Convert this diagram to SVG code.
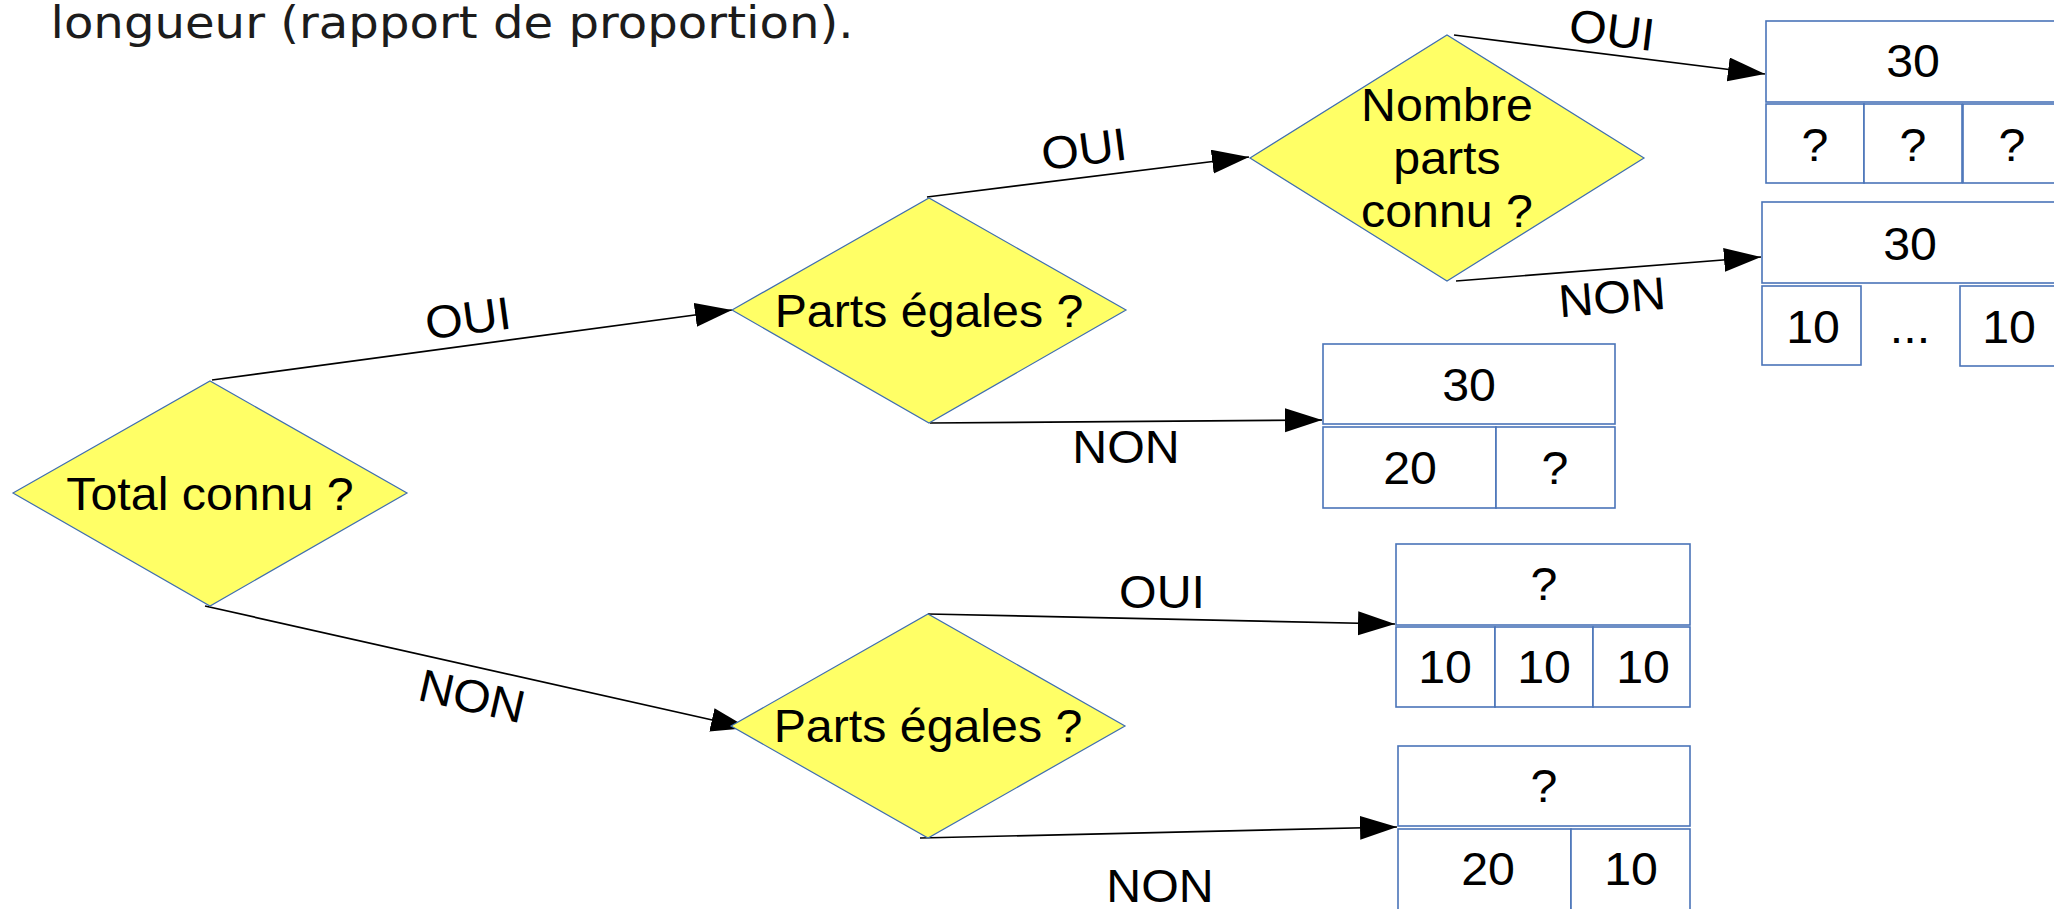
<svg xmlns="http://www.w3.org/2000/svg" width="2054" height="909" viewBox="0 0 2054 909">
<defs>
<style>
.dia{fill:#ffff66;stroke:#3f6eb0;stroke-width:1.2}
.box{fill:#ffffff;stroke:#4a74b8;stroke-width:1.6}
.t{font-family:"Liberation Sans",Arial,sans-serif;font-size:46px;fill:#000;text-anchor:middle}
.title{font-family:"DejaVu Sans",sans-serif;font-size:44px;fill:#1c1c1c}
.ln{stroke:#000;stroke-width:1.7;fill:none;marker-end:url(#ah)}
</style>
<marker id="ah" markerUnits="userSpaceOnUse" markerWidth="40" markerHeight="26" refX="37" refY="12" orient="auto" viewBox="0 0 40 26">
<path d="M0,0 L37,12 L0,24 z" fill="#000"/>
</marker>
</defs>
<rect width="2054" height="909" fill="#fff"/>
<text class="title" transform="translate(50.5 37.5) scale(1.095 1)">longueur (rapport de proportion).</text>

<g id="connectors">
<line class="ln" x1="212" y1="380" x2="732" y2="310"/>
<line class="ln" x1="205" y1="606" x2="748" y2="728"/>
<line class="ln" x1="927" y1="197" x2="1249" y2="157"/>
<line class="ln" x1="930" y1="423" x2="1322" y2="420"/>
<line class="ln" x1="1454" y1="35" x2="1765" y2="74"/>
<line class="ln" x1="1456" y1="281" x2="1761" y2="257"/>
<line class="ln" x1="928" y1="614" x2="1395" y2="624"/>
<line class="ln" x1="920" y1="838" x2="1397" y2="827"/>
<text class="t" transform="translate(468 318) rotate(-7.7) scale(1.05 1)" y="16">OUI</text>
<text class="t" transform="translate(472 696) rotate(12.7) scale(1.05 1)" y="16">NON</text>
<text class="t" transform="translate(1084 149) rotate(-7.3) scale(1.05 1)" y="16">OUI</text>
<text class="t" transform="translate(1126 463) scale(1.05 1)">NON</text>
<text class="t" transform="translate(1612 30) rotate(7.1) scale(1.05 1)" y="16">OUI</text>
<text class="t" transform="translate(1612 297) rotate(-4.5) scale(1.05 1)" y="16">NON</text>
<text class="t" transform="translate(1162 608) scale(1.05 1)">OUI</text>
<text class="t" transform="translate(1160 902) scale(1.05 1)">NON</text>
</g>

<g id="d-total">
<polygon class="dia" points="13,493 210,381 407,493 210,606"/>
<text class="t" transform="translate(210 510) scale(1.05 1)">Total connu ?</text>
</g>
<g id="d-parts1">
<polygon class="dia" points="732,310 929,198 1126,310 929,423"/>
<text class="t" transform="translate(929 327) scale(1.05 1)">Parts égales ?</text>
</g>
<g id="d-parts2">
<polygon class="dia" points="731,726 928,614 1125,726 928,838"/>
<text class="t" transform="translate(928 742) scale(1.05 1)">Parts égales ?</text>
</g>
<g id="d-nombre">
<polygon class="dia" points="1250,158 1447,35 1644,158 1447,281"/>
<text class="t" transform="translate(1447 121) scale(1.05 1)">Nombre</text>
<text class="t" transform="translate(1447 174) scale(1.05 1)">parts</text>
<text class="t" transform="translate(1447 227) scale(1.05 1)">connu ?</text>
</g>

<g id="box-a">
<rect class="box" x="1766" y="21" width="295" height="81"/>
<rect class="box" x="1766" y="104" width="98" height="79"/>
<rect class="box" x="1864" y="104" width="98" height="79"/>
<rect class="box" x="1963" y="104" width="98" height="79"/>
<text class="t" transform="translate(1913 77) scale(1.05 1)">30</text>
<text class="t" transform="translate(1815 161) scale(1.05 1)">?</text>
<text class="t" transform="translate(1913 161) scale(1.05 1)">?</text>
<text class="t" transform="translate(2012 161) scale(1.05 1)">?</text>
</g>
<g id="box-b">
<rect class="box" x="1762" y="202" width="296" height="81"/>
<rect class="box" x="1762" y="286" width="99" height="79"/>
<rect class="box" x="1960" y="286" width="98" height="80"/>
<text class="t" transform="translate(1910 260) scale(1.05 1)">30</text>
<text class="t" transform="translate(1813 343) scale(1.05 1)">10</text>
<text class="t" transform="translate(1910 343) scale(1.05 1)">...</text>
<text class="t" transform="translate(2009 343) scale(1.05 1)">10</text>
</g>
<g id="box-c">
<rect class="box" x="1323" y="344" width="292" height="80"/>
<rect class="box" x="1323" y="427" width="173" height="81"/>
<rect class="box" x="1496" y="427" width="119" height="81"/>
<text class="t" transform="translate(1469 401) scale(1.05 1)">30</text>
<text class="t" transform="translate(1410 484) scale(1.05 1)">20</text>
<text class="t" transform="translate(1555 484) scale(1.05 1)">?</text>
</g>
<g id="box-d">
<rect class="box" x="1396" y="544" width="294" height="81"/>
<rect class="box" x="1396" y="627" width="99" height="80"/>
<rect class="box" x="1495" y="627" width="98" height="80"/>
<rect class="box" x="1593" y="627" width="97" height="80"/>
<text class="t" transform="translate(1544 600) scale(1.05 1)">?</text>
<text class="t" transform="translate(1445 683) scale(1.05 1)">10</text>
<text class="t" transform="translate(1544 683) scale(1.05 1)">10</text>
<text class="t" transform="translate(1643 683) scale(1.05 1)">10</text>
</g>
<g id="box-e">
<rect class="box" x="1398" y="746" width="292" height="80"/>
<rect class="box" x="1398" y="829" width="173" height="85"/>
<rect class="box" x="1571" y="829" width="119" height="85"/>
<text class="t" transform="translate(1544 802) scale(1.05 1)">?</text>
<text class="t" transform="translate(1488 885) scale(1.05 1)">20</text>
<text class="t" transform="translate(1631 885) scale(1.05 1)">10</text>
</g>
</svg>
